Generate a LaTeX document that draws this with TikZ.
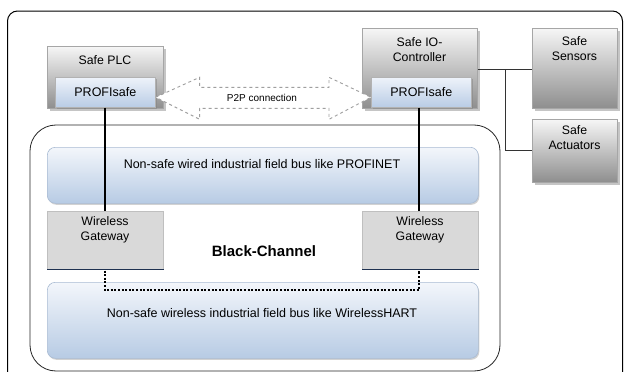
\documentclass[tikz,border=0pt]{standalone}
\usepackage{fontspec}
\setmainfont{Liberation Sans}
\usetikzlibrary{shadows,calc}
\definecolor{boxtop}{HTML}{F6F6F6}
\definecolor{boxbot}{HTML}{8E8E8E}
\definecolor{pstop}{HTML}{EEF3FA}
\definecolor{psbot}{HTML}{B9CCE5}
\definecolor{bandtop}{HTML}{F3F6FB}
\definecolor{bandbot}{HTML}{B7CBE4}
\definecolor{bandedge}{HTML}{A9BBD3}
\definecolor{gwfill}{HTML}{D9D9D9}
\definecolor{gwline}{HTML}{1F3251}
\tikzset{
  sbox/.style={draw=gray!70, line width=0.6pt, top color=boxtop, bottom color=boxbot,
    anchor=north west, inner sep=0pt, drop shadow={shadow xshift=2.5pt, shadow yshift=-2.5pt, opacity=0.45}},
  psbox/.style={draw=gray!60, line width=0.6pt, top color=pstop, bottom color=psbot,
    anchor=north west, inner sep=0pt, minimum width=100pt, minimum height=30pt,
    font=\fontsize{12.5}{15}\selectfont, drop shadow={shadow xshift=1.5pt, shadow yshift=-1.5pt, opacity=0.45}},
  band/.style={draw=bandedge, line width=0.6pt, rounded corners=8pt, top color=bandtop, bottom color=bandbot,
    anchor=north west, inner sep=0pt, minimum width=431pt,
    drop shadow={shadow xshift=1pt, shadow yshift=-1.5pt, opacity=0.35}},
  gwbox/.style={fill=gwfill, draw=gray!50, line width=0.5pt, anchor=north west, inner sep=0pt,
    minimum width=116pt, minimum height=58pt},
  lbl/.style={align=center, font=\fontsize{12.3}{15}\selectfont, inner sep=0pt},
  buslbl/.style={font=\fontsize{12.5}{15}\selectfont, inner sep=0pt},
  link/.style={line width=0.6pt, draw=black!80},
  solidline/.style={line width=1.8pt},
  dotline/.style={line width=2pt, dash pattern=on 2pt off 1.6pt},
  p2parrow/.style={draw=gray!75, dashed, line width=0.9pt, fill=white},
}
\begin{document}
\begin{tikzpicture}[x=1pt,y=-1pt]
\useasboundingbox (0,0) rectangle (625,372);
\fill[white] (0,0) rectangle (625,372);
% outer frame
\begin{scope}
\clip (0,0) rectangle (625,372);
\draw[line width=1pt, rounded corners=10pt] (7.5,385) -- (7.5,11) -- (622.5,11) -- (622.5,385);
% black channel region
\draw[line width=0.8pt, draw=black!85, rounded corners=26pt] (30,125) rectangle (500,371);
\end{scope}

% bands
\node[band, minimum height=56pt] (wired) at (47,147) {};
\node[buslbl] (wiredt) at (262,164) {Non-safe wired industrial field bus like PROFINET};
\node[band, minimum height=76pt] (wless) at (47,282) {};
\node[buslbl] (wlesst) at (262,313) {Non-safe wireless industrial field bus like WirelessHART};

% Safe PLC
\node[sbox, minimum width=116pt, minimum height=62pt] (plc) at (47,46) {};
\node[lbl] (plct) at (105,60) {Safe PLC};
\node[psbox] (ps1) at (55,77) {PROFIsafe};

% Safe IO controller
\node[sbox, minimum width=115pt, minimum height=80pt] (ioc) at (362,28) {};
\node[lbl] (ioct) at (419.5,49.5) {Safe IO-\\Controller};
\node[psbox] (ps2) at (371,77) {PROFIsafe};

% Sensors / actuators
\node[sbox, minimum width=85pt, minimum height=80pt] (sens) at (532,28) {};
\node[lbl] (senst) at (574.5,49) {Safe\\Sensors};
\node[sbox, minimum width=85pt, minimum height=63pt] (act) at (532,119) {};
\node[lbl] (actt) at (574.5,138) {Safe\\Actuators};

\coordinate (br) at (505,69);
\draw[link] (ioc.east |- br) -- (sens.west |- br);
\draw[link] (br) |- (act.west |- 0,150);

% P2P arrow
\coordinate (tl) at ($(ps1.east)+(0,5)$);
\coordinate (tr) at ($(ps2.west)+(0,5)$);
\draw[p2parrow] (tl) -- ++(44,-20) -- ++(0,10) -- ($(tr)+(-42,-10)$) -- ++(0,-10) -- (tr)
  -- ++(-42,22) -- ++(0,-11) -- ($(tl)+(44,11)$) -- ++(0,11) -- cycle;
\node[font=\fontsize{10}{12}\selectfont, inner sep=0pt] (p2pt) at (262,97.5) {P2P connection};

% gateways
\node[gwbox] (gw1) at (47,211) {};
\draw[gwline, line width=1.6pt] (gw1.south west) -- (gw1.south east);
\node[lbl] (gw1t) at (105,229.5) {Wireless\\Gateway};
\node[gwbox] (gw2) at (362,211) {};
\draw[gwline, line width=1.6pt] (gw2.south west) -- (gw2.south east);
\node[lbl] (gw2t) at (420,229.5) {Wireless\\Gateway};

\node[font=\bfseries\fontsize{15}{18}\selectfont, inner sep=0pt] (bc) at (264,251) {Black-Channel};

% solid links
\draw[solidline] (ps1.south -| 105,0) -- (gw1.north -| 105,0);
\draw[solidline] (ps2.south -| 419,0) -- (gw2.north -| 419,0);
% dotted link
\draw[dotline] ($(gw1.south -| 105,0)+(0,1)$) -- (105,290) -- (419,290) -- ($(gw2.south -| 419,0)+(0,1)$);
\end{tikzpicture}
\end{document}
